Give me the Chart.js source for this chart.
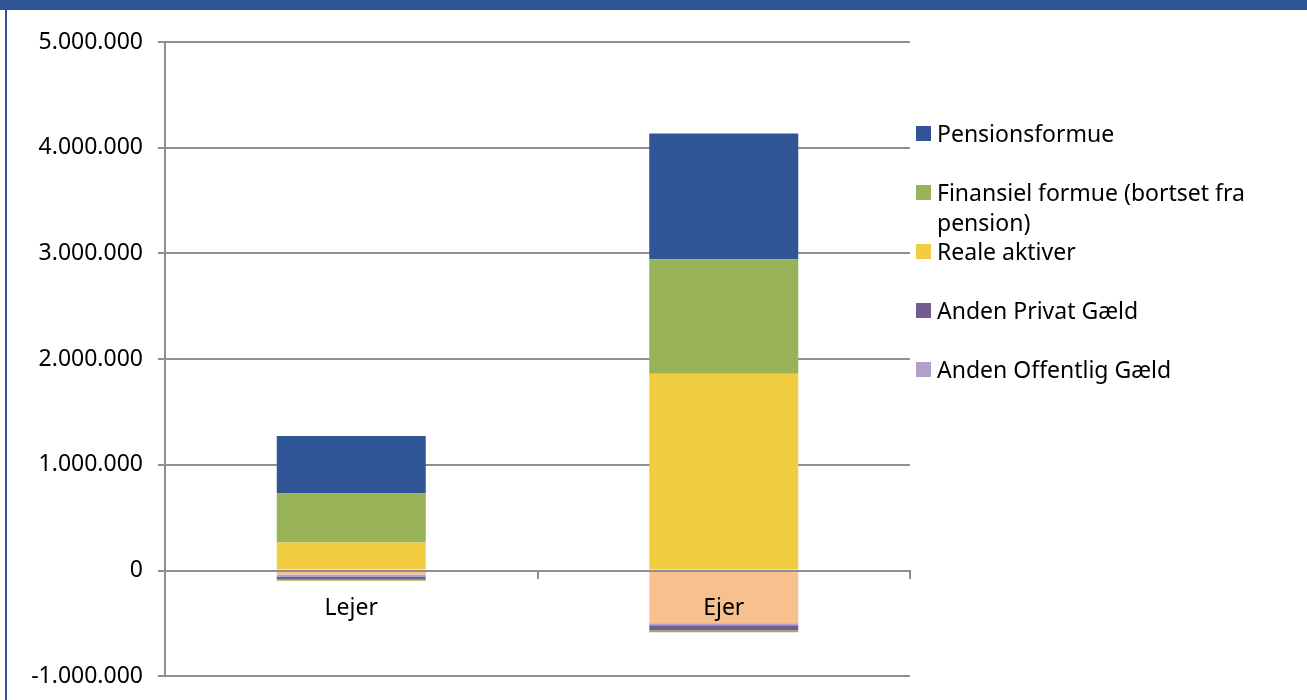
<!DOCTYPE html>
<html>
<head>
<meta charset="utf-8">
<script src="https://cdn.jsdelivr.net/npm/chart.js@4"></script>
<style>
  body { margin: 0; background: #fff; font-family: "Noto Sans", sans-serif; }
  #wrap { position: absolute; left: 0; top: 0; width: 1307px; height: 700px; overflow: hidden; }
  #band { position: absolute; left: 0; top: 0; width: 1307px; height: 10px; background: #2f5597; }
  #edge { position: absolute; left: 5px; top: 0; width: 2px; height: 700px; background: #2f5597; }
  #box { position: absolute; left: 0; top: 0; width: 1307px; height: 705px; }
  #legend { position: absolute; left: 916px; top: 0; }
  .item { position: absolute; left: 0; width: 370px; font-size: 23px; line-height: 30px; color: #000; }
  .item i { position: absolute; left: 0; top: 8px; width: 15px; height: 15px; }
  .item span { display: block; margin-left: 21px; width: 340px; }
</style>
</head>
<body>
<div id="wrap">
  <div id="box"><canvas id="c"></canvas></div>
  <div id="band"></div>
  <div id="edge"></div>
  <div id="legend"></div>
</div>
<script>
const categories = ['Lejer', 'Ejer'];

const reale = [266000, 1862000];
const finansiel = [465000, 1082000];
const pension = [541000, 1190000];
const boliggaeld = [-38000, -500000];
const offentligGaeld = [-19000, -19000];
const privatGaeld = [-28000, -47000];
const oevrigGaeld = [-12000, -19000];

const yTicks = [-1000000, 0, 1000000, 2000000, 3000000, 4000000, 5000000];

const fmt = v => (v < 0 ? '-' : '') + String(Math.abs(v)).replace(/\B(?=(\d{3})+(?!\d))/g, '.');

const datasets = [
  { label: 'Reale aktiver', data: reale, backgroundColor: '#f2cd42', legend: 2 },
  { label: 'Finansiel formue (bortset fra pension)', data: finansiel, backgroundColor: '#97b257', legend: 1 },
  { label: 'Pensionsformue', data: pension, backgroundColor: '#2f5597', legend: 0 },
  { label: 'Boliggæld', data: boliggaeld, backgroundColor: '#f9c08f' },
  { label: 'Anden Offentlig Gæld', data: offentligGaeld, backgroundColor: '#b1a0c7', legend: 4 },
  { label: 'Anden Privat Gæld', data: privatGaeld, backgroundColor: '#755b94', legend: 3 },
  { label: 'Øvrig gæld', data: oevrigGaeld, backgroundColor: '#97b257' }
];

const font = { family: 'Noto Sans', size: 23 };

new Chart(document.getElementById('c'), {
  type: 'bar',
  data: {
    labels: categories,
    datasets: datasets.map(d => ({
      label: d.label,
      data: d.data,
      backgroundColor: d.backgroundColor,
      borderWidth: 0,
      barPercentage: 0.4,
      categoryPercentage: 1.0
    }))
  },
  options: {
    responsive: true,
    maintainAspectRatio: false,
    animation: false,
    layout: { padding: { left: 0, right: 397, top: 42, bottom: 7 } },
    plugins: { legend: { display: false }, tooltip: { enabled: false } },
    scales: {
      x: {
        stacked: true,
        position: { y: 0 },
        grid: { offset: true, drawOnChartArea: false, drawTicks: true, tickLength: 7, color: '#8e8e8e', lineWidth: 2, z: 1 },
        border: { display: true, color: '#8e8e8e', width: 2, z: 1 },
        ticks: { color: '#000', font: font, padding: 17, z: 1 }
      },
      y: {
        stacked: true,
        min: -1000000,
        max: 5000000,
        afterFit: s => { s.width = 165; },
        afterBuildTicks: s => { s.ticks = yTicks.map(v => ({ value: v })); },
        grid: { color: '#8e8e8e', lineWidth: 2, tickLength: 7 },
        border: { display: true, color: '#8e8e8e', width: 2 },
        ticks: { color: '#000', font: font, padding: 15, callback: v => fmt(v) }
      }
    }
  }
});

// legend, same order as the reference (top to bottom)
const leg = document.getElementById('legend');
datasets.filter(d => d.legend !== undefined)
  .sort((a, b) => a.legend - b.legend)
  .forEach((d, i) => {
    const el = document.createElement('div');
    el.className = 'item';
    el.style.top = (118 + i * 59) + 'px';
    el.innerHTML = '<i style="background:' + d.backgroundColor + '"></i><span></span>';
    el.querySelector('span').textContent = d.label;
    leg.appendChild(el);
  });
</script>
</body>
</html>
